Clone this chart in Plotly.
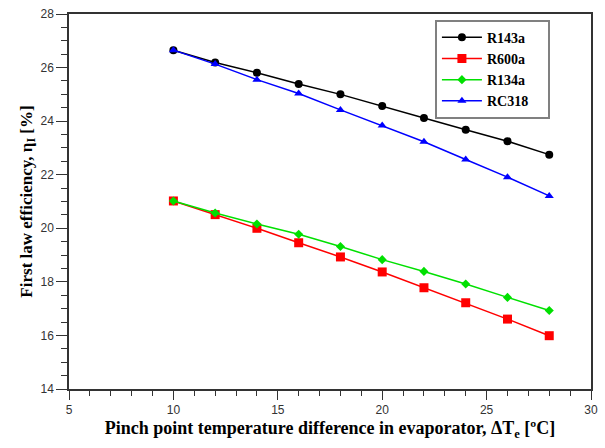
import plotly.graph_objects as go

# Pinch point temperature difference in evaporator (°C)
delta_t = [10, 12, 14, 16, 18, 20, 22, 24, 26, 28]

# First law efficiency (%) per working fluid
r143a = [26.65, 26.19, 25.81, 25.39, 25.00, 24.57, 24.12, 23.68, 23.25, 22.75]
r600a = [21.02, 20.51, 20.00, 19.46, 18.93, 18.37, 17.78, 17.22, 16.61, 15.99]
r134a = [21.02, 20.57, 20.16, 19.78, 19.32, 18.83, 18.39, 17.92, 17.42, 16.93]
rc318 = [26.65, 26.13, 25.55, 25.03, 24.42, 23.84, 23.23, 22.57, 21.91, 21.21]

series = [
    ("R143a", r143a, "#000000", "circle", 8),
    ("R600a", r600a, "#ff0000", "square", 9),
    ("R134a", r134a, "#00e000", "diamond", 7),
    ("RC318", rc318, "#0000ff", "triangle-up", 8),
]

fig = go.Figure()
for name, vals, color, symbol, size in series:
    fig.add_trace(go.Scatter(
        x=delta_t, y=vals, name=f"<b>{name}</b>&nbsp;&nbsp;&nbsp;&nbsp;", mode="lines+markers",
        line=dict(color=color, width=1.5),
        marker=dict(color=color, symbol=symbol, size=size, line=dict(width=0)),
    ))

serif = "Liberation Serif, Times New Roman, serif"
tick_font = dict(family="Liberation Sans, Arial, sans-serif", size=12, color="#333333")

fig.update_layout(
    width=605, height=448,
    margin=dict(l=69, r=14, t=7, b=59),
    paper_bgcolor="white", plot_bgcolor="white",
    showlegend=True,
    legend=dict(
        x=0.701, y=0.985, xanchor="left", yanchor="top",
        bordercolor="#808080", borderwidth=2, bgcolor="white",
        font=dict(family=serif, size=14, color="#000000"),
        tracegroupgap=0, itemwidth=40,
    ),
)

fig.update_xaxes(
    range=[5, 30], dtick=5, tick0=5,
    showgrid=False, zeroline=False,
    showline=True, linecolor="#333333", linewidth=1.5, mirror=True,
    ticks="outside", ticklen=9, tickwidth=1.2, tickcolor="#333333",
    minor=dict(dtick=1, ticks="outside", ticklen=5, tickwidth=1, tickcolor="#333333", showgrid=False),
    tickfont=tick_font,
    title=dict(text="<b>Pinch point temperature difference in evaporator, ΔT<sub>e</sub> [ºC]</b>",
               font=dict(family=serif, size=18, color="#000000"), standoff=5),
)

fig.update_yaxes(
    range=[14, 28], dtick=2, tick0=14,
    showgrid=False, zeroline=False,
    showline=True, linecolor="#333333", linewidth=1.5, mirror=True,
    ticks="outside", ticklen=11, tickwidth=1.2, tickcolor="#333333",
    minor=dict(dtick=0.5, ticks="outside", ticklen=6, tickwidth=1, tickcolor="#333333", showgrid=False),
    tickfont=tick_font,
    title=dict(text="<b>First law efficiency, η<sub>I</sub> [%]</b>",
               font=dict(family=serif, size=17, color="#000000"), standoff=4),
)

fig.write_html("out.html")
